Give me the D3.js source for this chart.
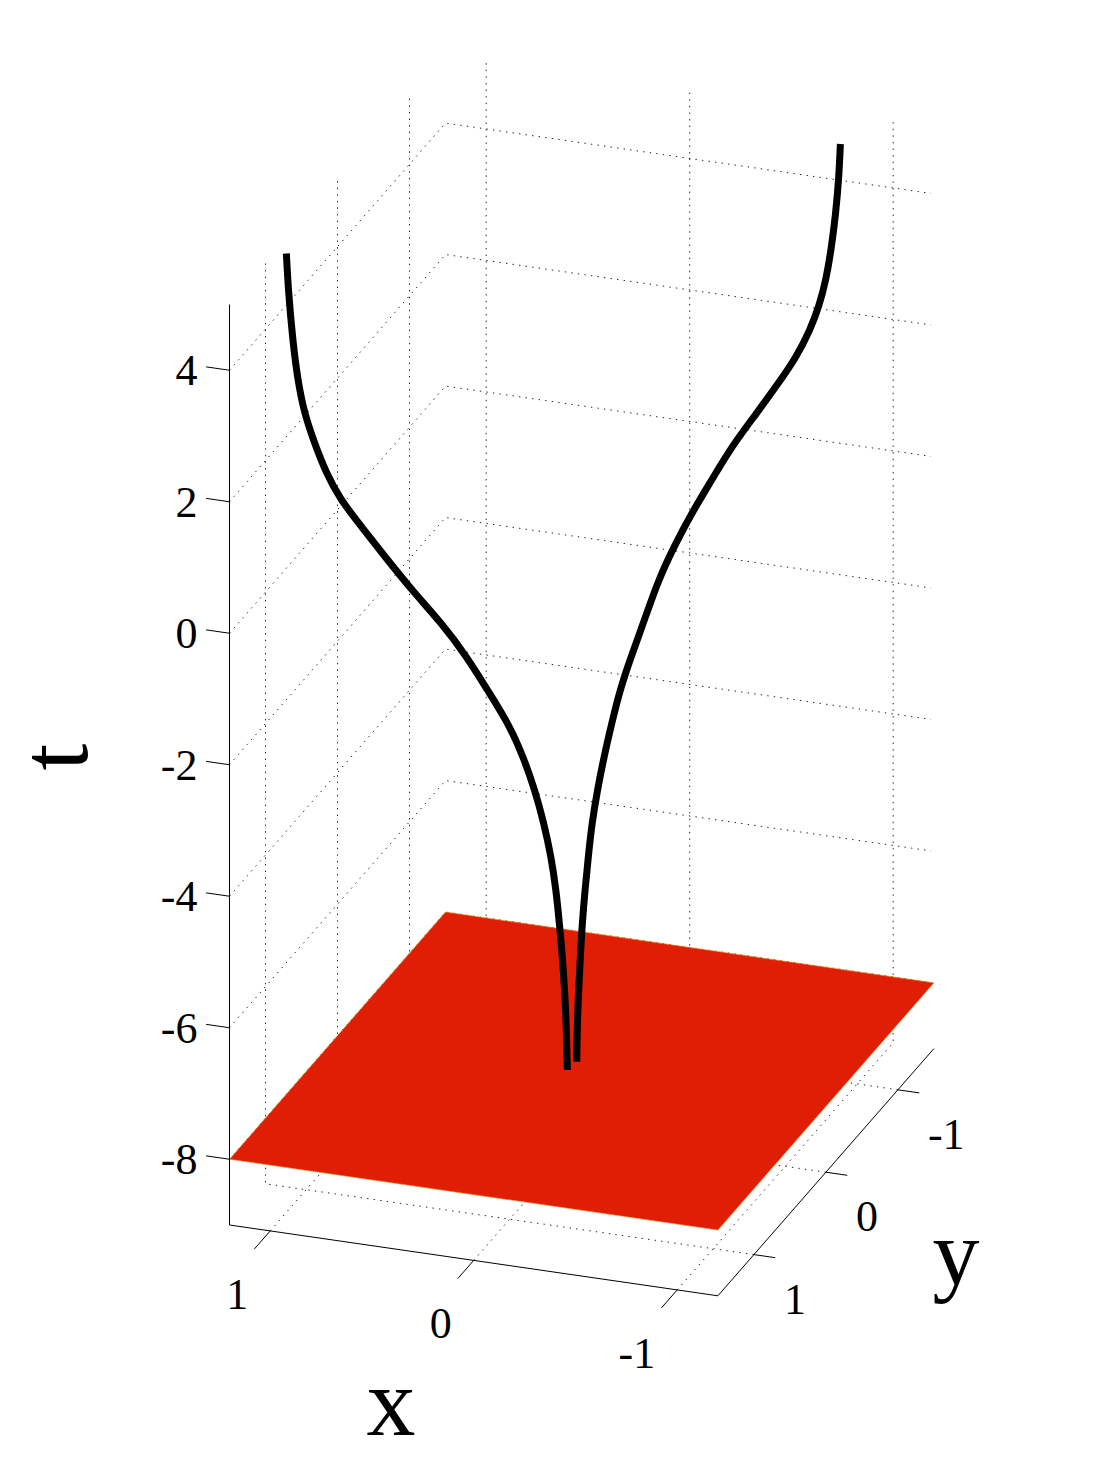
<!DOCTYPE html>
<html><head><meta charset="utf-8">
<script src="https://cdnjs.cloudflare.com/ajax/libs/d3/7.8.5/d3.min.js"></script>
<style>html,body{margin:0;padding:0;background:#fff}svg{display:block}text{font-family:"Liberation Serif","Times New Roman",serif;fill:#000}</style>
</head><body><svg id="chart" width="1113" height="1463"></svg>
<script>
// Data ranges and ticks
const xDomain = [1.2, -1.2];
const yDomain = [1.5, -1.5];
const tDomain = [-9, 5];
const xTicks = [1, 0, -1];
const yTicks = [1, 0, -1];
const tTicks = [4, 2, 0, -2, -4, -6, -8];
const planeT = -8;
// Two vortex-like curves, assumed to lie in the diagonal plane y = x
const leftX = [1.072,1.065,1.049,1.031,1.007,.974,.928,.875,.799,.714,.617,.508,.417,.342,.266,.212,.170,.137,.111,.093,.081,.070,.062,.056,.052];
const leftT = [5.297,4.736,3.963,3.340,2.819,2.381,1.842,1.389,.921,.397,-.188,-.781,-1.362,-1.930,-2.497,-3.048,-3.589,-4.122,-4.649,-5.171,-5.688,-6.204,-6.718,-7.229,-7.942];
const rightX = [-.939,-.933,-.922,-.907,-.887,-.861,-.829,-.780,-.714,-.635,-.544,-.472,-.399,-.335,-.278,-.215,-.175,-.139,-.109,-.081,-.057,-.037,-.024,-.012,-.002,.005,.011,.016,.018];
const rightT = [5.344,4.802,4.304,3.807,3.318,2.932,2.604,2.237,1.886,1.494,1.059,.610,.163,-.294,-.754,-1.465,-1.889,-2.316,-2.798,-3.284,-3.772,-4.263,-4.759,-5.256,-5.755,-6.257,-6.759,-7.261,-7.843];

// Oblique projection from scales
const xToPx = d3.scaleLinear().domain(xDomain).range([229.5, 717.9]);
const xToPy = d3.scaleLinear().domain(xDomain).range([0, 70.8]);
const yToPx = d3.scaleLinear().domain(yDomain).range([0, 216]);
const yToPy = d3.scaleLinear().domain(yDomain).range([0, -247.2]);
const tToPy = d3.scaleLinear().domain(tDomain).range([1225, 304.5]);
const proj = (x, y, t) => [xToPx(x) + yToPx(y), tToPy(t) + xToPy(x) + yToPy(y)];

const svg = d3.select("#chart");
const [x0, x1] = xDomain, [y0, y1] = yDomain, [t0, t1] = tDomain;
const seg = (g, a, b) => g.append("line")
  .attr("x1", a[0]).attr("y1", a[1]).attr("x2", b[0]).attr("y2", b[1]);

// Grid
const grid = svg.append("g").attr("fill", "none").attr("stroke", "#222").attr("stroke-width", 1).attr("stroke-dasharray", "1.4 5.2");
xTicks.forEach(x => {
  grid.append("polyline").attr("points", [proj(x, y0, t0), proj(x, y1, t0), proj(x, y1, t1)].join(" "));
});
yTicks.forEach(y => {
  grid.append("polyline").attr("points", [proj(x1, y, t0), proj(x0, y, t0), proj(x0, y, t1)].join(" "));
});
tTicks.forEach(t => {
  grid.append("polyline").attr("points", [proj(x0, y0, t), proj(x0, y1, t), proj(x1 + 0.015, y1, t)].join(" "));
});

// Plane
svg.append("polygon")
  .attr("points", [proj(x0, y0, planeT), proj(x1, y0, planeT), proj(x1, y1, planeT), proj(x0, y1, planeT)].join(" "))
  .attr("fill", "#e01e06").attr("stroke", "#e8901c").attr("stroke-width", 0.6);

// Curves
const line = d3.line().x(d => d[0]).y(d => d[1]).curve(d3.curveBasis);
[[leftX, leftT], [rightX, rightT]].forEach(([xs, ts]) => {
  svg.append("path").attr("d", line(xs.map((x, i) => proj(x, x, ts[i]))))
    .attr("fill", "none").attr("stroke", "#000").attr("stroke-width", 7);
});

// Axes
const axes = svg.append("g").attr("stroke", "#000").attr("stroke-width", 1);
seg(axes, proj(x0, y0, t0), proj(x1, y0, t0));
seg(axes, proj(x1, y0, t0), proj(x1, y1, t0));
seg(axes, proj(x0, y0, t0), proj(x0, y0, t1));
xTicks.forEach(x => seg(axes, proj(x, y0, t0), proj(x, y0 + 0.22, t0)));
yTicks.forEach(y => seg(axes, proj(x1, y, t0), proj(x1 - 0.105, y, t0)));
tTicks.forEach(t => seg(axes, proj(x0, y0, t), proj(x0 + 0.115, y0, t)));

// Tick labels
const tickFont = 44;
const label = (txt, px, py, anchor, size) => svg.append("text").text(txt)
  .attr("x", px).attr("y", py).attr("text-anchor", anchor).attr("font-size", size);
const fmt = v => String(v);
tTicks.forEach(t => { const p = proj(x0, y0, t); label(fmt(t), p[0] - 32, p[1] + 15, "end", tickFont); });
xTicks.forEach(x => { const p = proj(x, y0, t0); label(fmt(x), p[0] - 22, p[1] + 78, "end", tickFont); });
yTicks.forEach(y => { const p = proj(x1, y, t0); label(fmt(y), p[0] + 30, p[1] + 59, "start", tickFont); });

// Axis titles
label("x", 391, 1435, "middle", 98);
label("y", 956, 1284, "middle", 94);
svg.append("text").text("t").attr("font-size", 97).attr("text-anchor", "middle")
  .attr("transform", "translate(87,757) rotate(-90)");
</script></body></html>
